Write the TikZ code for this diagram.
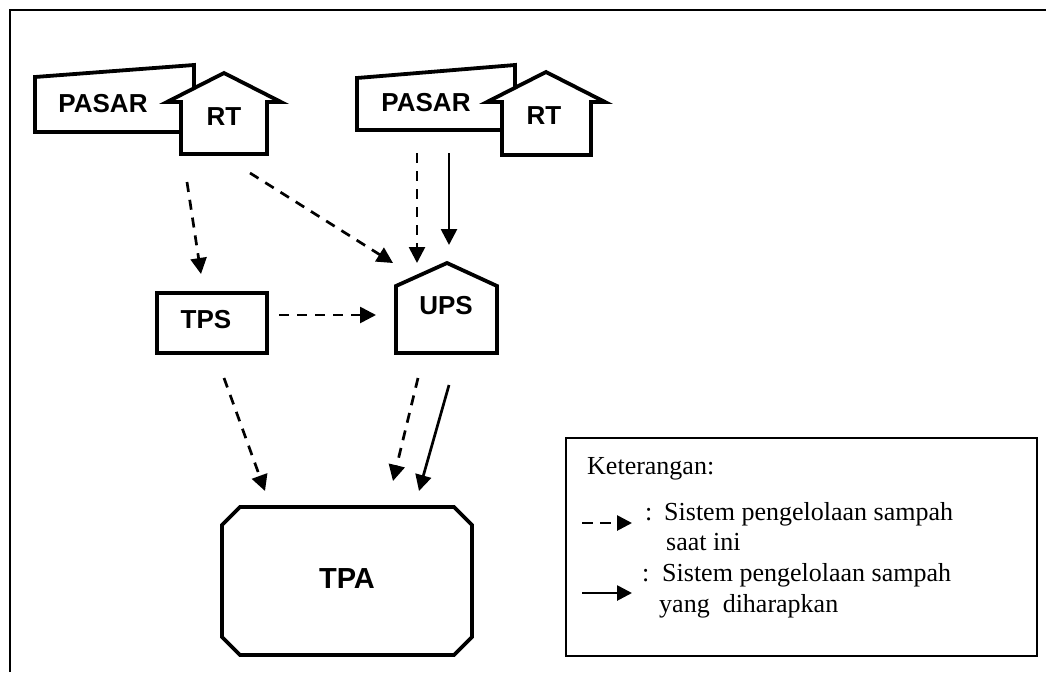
\documentclass[tikz,border=0pt]{standalone}
\usepackage{fontspec}
\setmainfont{Liberation Serif}
\setsansfont{Liberation Sans}
\usetikzlibrary{arrows.meta}
\tikzset{
  shapeline/.style={draw=black, line width=3.8pt, fill=white, line join=miter},
  lbl/.style={font=\sffamily\bfseries\fontsize{26}{30}\selectfont, inner sep=0pt},
  bigl/.style={font=\sffamily\bfseries\fontsize{29}{34}\selectfont, inner sep=0pt},
  tip/.style={-{Triangle[length=16pt,width=16pt]}},
  flow/.style={line width=2.7pt, tip},
  nowflow/.style={flow, dash pattern=on 10pt off 8pt},
  legtext/.style={font=\rmfamily\fontsize{26}{31}\selectfont, inner sep=0pt, anchor=base west},
}
\begin{document}
\begin{tikzpicture}[x=1pt,y=-1pt]
\useasboundingbox (0,0) rectangle (1046,672);
% outer frame (top and left edges visible)
\draw[line width=2.4pt] (10,672) -- (10,10) -- (1046,10);

% left PASAR + RT
\path[shapeline] (35,77) -- (194,65) -- (194,132) -- (35,132) -- cycle;
\path[shapeline] (167,102) -- (224,73) -- (281,102) -- (267,102) -- (267,154) -- (181,154) -- (181,102) -- cycle;
\node[lbl] (pasar1) at (103,104) {PASAR};
\node[lbl] (rt1) at (224,117) {RT};

% right PASAR + RT
\path[shapeline] (357,78) -- (515,65) -- (515,130) -- (357,130) -- cycle;
\path[shapeline] (487,102) -- (546,72) -- (605,102) -- (591,102) -- (591,155) -- (502,155) -- (502,102) -- cycle;
\node[lbl] (pasar2) at (426,103) {PASAR};
\node[lbl] (rt2) at (544,116) {RT};

% TPS
\path[shapeline] (157,293) rectangle (267,353);
\node[lbl] (tps) at (206,320) {TPS};

% UPS
\path[shapeline] (396,286) -- (447,263) -- (497,286) -- (497,353) -- (396,353) -- cycle;
\node[lbl] (ups) at (446,306) {UPS};

% TPA
\path[shapeline] (240,507) -- (454,507) -- (472,525) -- (472,637) -- (454,655) -- (240,655) -- (222,637) -- (222,525) -- cycle;
\node[bigl] (tpa) at (347,579) {TPA};

% connector end points
\coordinate (a1) at (187,182);  \coordinate (a2) at (201,274);
\coordinate (b1) at (250,173);  \coordinate (b2) at (393,263);
\coordinate (c1) at (417,153);  \coordinate (c2) at (417,263);
\coordinate (d1) at (449,153);  \coordinate (d2) at (449,245);
\coordinate (e1) at (279,315);  \coordinate (e2) at (376,315);
\coordinate (f1) at (224,378);  \coordinate (f2) at (265,491);
\coordinate (g1) at (418,378);  \coordinate (g2) at (393,481);
\coordinate (h1) at (449,385);  \coordinate (h2) at (419,491);

\draw[nowflow] (a1) -- (a2);
\draw[nowflow] (b1) -- (b2);
\draw[nowflow] (c1) -- (c2);
\draw[flow] (d1) -- (d2);
\draw[nowflow] (e1) -- (e2);
\draw[nowflow] (f1) -- (f2);
\draw[nowflow] (g1) -- (g2);
\draw[flow] (h1) -- (h2);

% legend
\draw[line width=2.4pt] (566,438) rectangle (1037,656);
\node[legtext] (ket) at (587,474) {Keterangan:};
\coordinate (la1) at (582,523); \coordinate (la2) at (632,523);
\draw[line width=2.7pt, dash pattern=on 11pt off 7pt, -{Triangle[length=15pt,width=15pt]}] (la1) -- (la2);
\node[legtext] (l1a) at (645,520) {:};
\node[legtext] (l1b) at (664,520) {Sistem pengelolaan sampah};
\node[legtext] (l1c) at (666,550) {saat ini};
\coordinate (lb1) at (582,593); \coordinate (lb2) at (632,593);
\draw[line width=2.7pt, -{Triangle[length=15pt,width=15pt]}] (lb1) -- (lb2);
\node[legtext] (l2a) at (642,581) {:};
\node[legtext] (l2b) at (662,581) {Sistem pengelolaan sampah};
\node[legtext] (l2c) at (659,612) {yang\ \ diharapkan};
\end{tikzpicture}
\end{document}
